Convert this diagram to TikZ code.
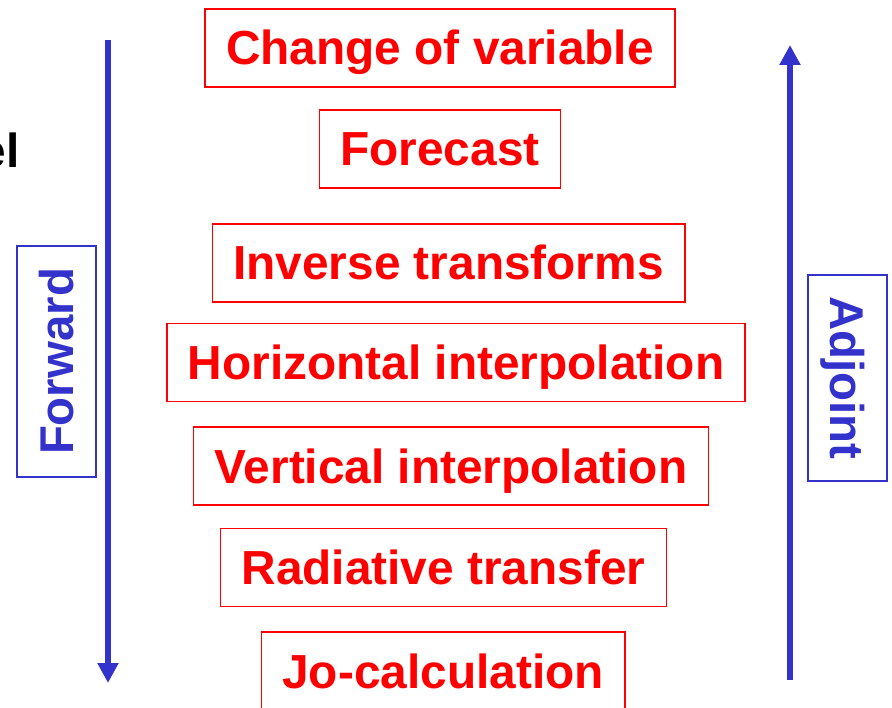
\documentclass[tikz,border=0pt]{standalone}
\usepackage{fontspec}
\setmainfont{Liberation Sans}
\usepackage{tikz}
\usetikzlibrary{positioning,arrows.meta}
\definecolor{stepred}{RGB}{255,0,0}
\definecolor{flowblue}{RGB}{51,51,204}

\begin{document}
\begin{tikzpicture}[
  x=1pt, y=-1pt,
  stepbox/.style={draw=stepred, line width=1.6pt, text=stepred, inner xsep=21pt, inner ysep=0pt, minimum height=78pt, text height=34pt, text depth=0pt, font=\fontsize{47.8}{50}\selectfont\bfseries},
  dirbox/.style={draw=flowblue, line width=1.6pt, text=flowblue, inner sep=0pt, text height=34pt, text depth=0pt, font=\fontsize{47.4}{50}\selectfont\bfseries},
  flow/.style={-{Triangle[length=20pt, width=20pt]}, line width=6pt, flowblue}
]
\useasboundingbox (0,0) rectangle (892,708);

% cut-off text at the left edge
\node[anchor=east, font=\fontsize{47.8}{50}\selectfont\bfseries, inner sep=0pt] (cutn) at (3,48) {n};
\node[anchor=east, font=\fontsize{47.8}{50}\selectfont\bfseries, inner sep=0pt] (cutel) at (20,150) {el};

\node[stepbox] (chvar) at (440,48) {Change of variable};
\node[stepbox] (fcst) at (440,149) {Forecast};
\node[stepbox] (invtr) at (448.5,263) {Inverse transforms};
\node[stepbox] (horint) at (456,362.5) {Horizontal interpolation};
\node[stepbox] (verint) at (451,466) {Vertical interpolation};
\node[stepbox] (radtr) at (443.5,567.5) {Radiative transfer};
\node[stepbox] (jocalc) at (443,671) {Jo-calculation};

\node[dirbox, minimum width=231pt, minimum height=79pt, rotate=90] (fwd) at (56.5,361.5) {Forward};
\node[dirbox, minimum width=206pt, minimum height=79pt, rotate=-90] (adj) at (847.5,378) {Adjoint};

\coordinate (fwdtop) at (108,40);
\coordinate (fwdbot) at (108,683);
\coordinate (adjbot) at (790,680);
\coordinate (adjtop) at (790,45);
\draw[flow] (fwdtop) -- (fwdbot);
\draw[flow] (adjbot) -- (adjtop);
\end{tikzpicture}
\end{document}
